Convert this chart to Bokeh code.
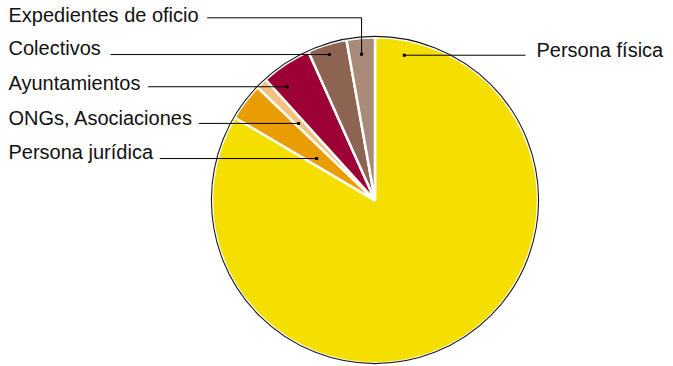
import numpy as np
from bokeh.plotting import figure
from bokeh.models import Range1d, ColumnDataSource
from bokeh.embed import file_html
from bokeh.resources import INLINE
from bokeh.core.properties import value

# ---- data ----
categories = ["Persona física", "Persona jurídica", "ONGs, Asociaciones",
              "Ayuntamientos", "Colectivos", "Expedientes de oficio"]
shares = [83.4, 3.7, 1.1, 5.0, 3.9, 2.8]
colors = ["#F5DF00", "#E99D00", "#F4C27C", "#9C0034", "#8D6352", "#A98A78"]

# ---- layout (image pixel coordinates -> data) ----
W, H = 673, 366
def DX(ix): return ix
def DY(iy): return H - iy

cx, cy = DX(374.5), DY(199.8)
R = 163.0

# anchor of each leader dot inside its slice: fraction along slice, fraction of radius
dot_frac = [0.038, 0.38, 0.33, 0.25, 0.48, 0.48]
dot_rad = [0.908, 0.44, 0.665, 0.88, 0.937, 0.90]
# label text position (image px) and leader start x
label_x = [536, 8, 8, 8, 8, 8]
label_y = [55.7, 158.3, 124.0, 89.3, 54.3, 20.7]
text_shift = 6.5
lead_x = [525, 159.3, 198.3, 147.7, 110.0, 206.7]
elbow_y = 17.3  # for the top label

vals = np.array(shares, dtype=float)
frac = vals / vals.sum()
cum = np.concatenate([[0], np.cumsum(frac)])
start = np.pi / 2 - 2 * np.pi * cum[1:]
end = np.pi / 2 - 2 * np.pi * cum[:-1]

p = figure(width=W, height=H, output_backend="svg", toolbar_location=None,
           x_range=Range1d(0, W), y_range=Range1d(0, H), min_border=0)
p.axis.visible = False
p.grid.visible = False
p.outline_line_color = None
p.background_fill_color = "white"

src = ColumnDataSource(dict(start=start, end=end, color=colors, cat=categories))
p.wedge(x=cx, y=cy, radius=R, start_angle="start", end_angle="end",
        fill_color="color", line_color="white", line_width=2.5, source=src)
p.circle(x=[cx], y=[cy + 0.3], radius=R + 0.6, fill_color=None,
         line_color="#1a1a1a", line_width=1.1)

dxs, dys = [], []
for i in range(len(categories)):
    th = np.pi / 2 - 2 * np.pi * (cum[i] + dot_frac[i] * frac[i])
    x = cx + dot_rad[i] * R * np.cos(th)
    y = cy + dot_rad[i] * R * np.sin(th)
    dxs.append(x)
    dys.append(y)
    if i == len(categories) - 1:
        xs = [DX(lead_x[i]), x, x]
        ys = [DY(elbow_y), DY(elbow_y), y]
    else:
        xs = [DX(lead_x[i]), x]
        ys = [y, y]
    p.line(xs, ys, line_color="black", line_width=1)

p.scatter(dxs, dys, marker="square", size=3, fill_color="black", line_color=None)

p.text(x=[DX(v) for v in label_x], y=[DY(v - text_shift) for v in label_y], text=categories,
       text_font=value("Liberation Sans"), text_font_size="20px",
       text_color="#111111", text_baseline="alphabetic", text_align="left")

open("out.html", "w").write(file_html(p, INLINE))
